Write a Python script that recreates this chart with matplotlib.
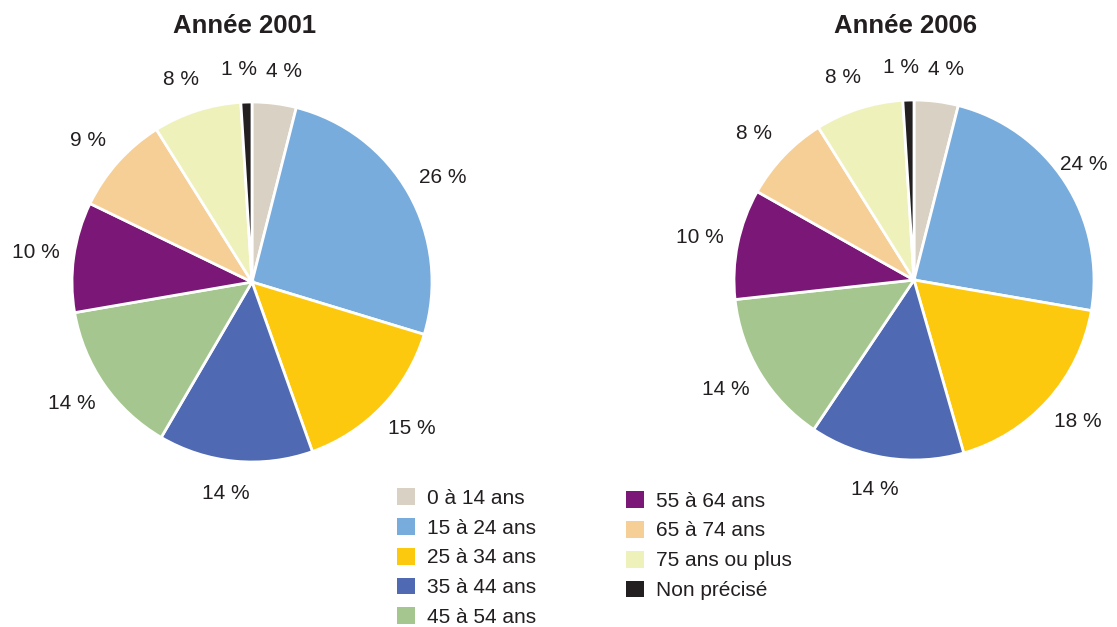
import matplotlib
matplotlib.use("Agg")
import numpy as np
import matplotlib.pyplot as plt
from matplotlib.patches import Patch
from matplotlib.transforms import ScaledTranslation

plt.rcParams['font.family'] = ['Liberation Sans', 'DejaVu Sans']

categories = ["0 à 14 ans", "15 à 24 ans", "25 à 34 ans", "35 à 44 ans", "45 à 54 ans",
              "55 à 64 ans", "65 à 74 ans", "75 ans ou plus", "Non précisé"]
values_2001 = [4, 26, 15, 14, 14, 10, 9, 8, 1]
values_2006 = [4, 24, 18, 14, 14, 10, 8, 8, 1]
titles = ["Année 2001", "Année 2006"]
colors = ["#d9d1c3", "#78acdc", "#fdc90e", "#4f6ab2", "#a5c68f",
          "#7b1877", "#f6cf97", "#eef2ba", "#231f20"]

W, H = 1117, 627
fig = plt.figure(figsize=(W / 100, H / 100), dpi=100)

R = 180
centers = [(252, 282), (914, 280)]
title_x = [245, 906]
all_texts = []
for (cx, cy), vals, title, tx in zip(centers, [values_2001, values_2006], titles, title_x):
    ax = fig.add_axes([(cx - R) / W, (H - cy - R) / H, 2 * R / W, 2 * R / H])
    labels = [f"{v} %" for v in vals]
    wedges, texts = ax.pie(vals, colors=colors, labels=labels, startangle=90,
                           counterclock=False, labeldistance=1.18, radius=1,
                           wedgeprops=dict(edgecolor="white", linewidth=2),
                           textprops=dict(fontsize=15, color="#231f20"))
    for t in texts:
        x, _ = t.get_position()
        t.set_ha("center")
        t.set_va("center")
        t.set_transform(ax.transData + ScaledTranslation(np.sign(x) * 0.06, 0, fig.dpi_scale_trans))
        all_texts.append((ax, t, np.sign(x) * 0.06))
    ax.set_xlim(-1, 1)
    ax.set_ylim(-1, 1)
    fig.text(tx / W, 1 - 26 / H, title, ha="center", va="center",
             fontsize=18.5, fontweight="bold", color="#231f20")

# keep labels inside the figure
fig.canvas.draw()
renderer = fig.canvas.get_renderer()
margin = 9
for ax, t, dx in all_texts:
    bb = t.get_window_extent(renderer)
    shift = 0.0
    if bb.x1 > W - margin:
        shift = -(bb.x1 - (W - margin)) / fig.dpi
    elif bb.x0 < margin:
        shift = (margin - bb.x0) / fig.dpi
    if shift:
        t.set_transform(ax.transData + ScaledTranslation(dx + shift, 0, fig.dpi_scale_trans))

handles = [Patch(facecolor=c, edgecolor="none", label=l) for c, l in zip(colors, categories)]
common = dict(frameon=False, fontsize=15, handlelength=0.87, handleheight=0.87,
              handletextpad=0.56, labelspacing=0.49, borderpad=0, borderaxespad=0,
              loc="upper left", labelcolor="#231f20")
leg1 = fig.legend(handles=handles[:5], bbox_to_anchor=(397 / W, 1 - 488 / H), **common)
leg2 = fig.legend(handles=handles[5:], bbox_to_anchor=(626 / W, 1 - 491 / H), **common)

fig.savefig("out.png", dpi=100, facecolor="white")
